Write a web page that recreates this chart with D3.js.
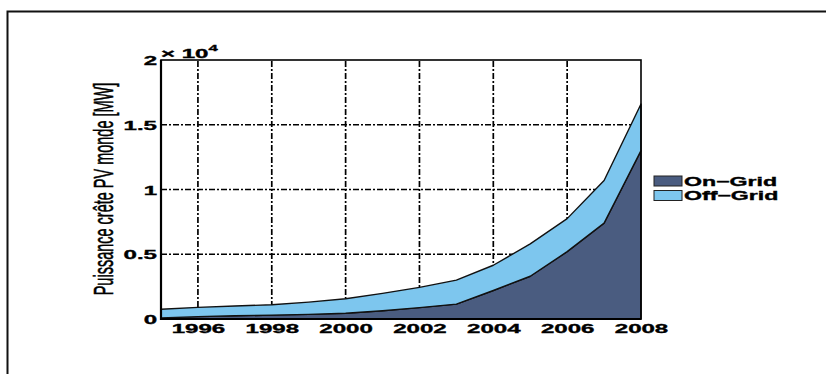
<!DOCTYPE html>
<html>
<head>
<meta charset="utf-8">
<script src="https://cdn.jsdelivr.net/npm/d3@7"></script>
<style>
  html, body { margin: 0; padding: 0; background: #fff; }
  svg { display: block; }
  text { font-family: "Liberation Sans", Arial, sans-serif; fill: #000; }
</style>
</head>
<body>
<svg id="chart" width="826" height="374"></svg>
<script>
// Installed world PV peak power, MW, stacked by grid connection
const years    = [1995, 1996, 1997, 1998, 1999, 2000, 2001, 2002, 2003, 2004, 2005, 2006, 2007, 2008];
const onGrid   = [  80,  180,  250,  300,  360,  440,  640,  880, 1150, 2200, 3300, 5200, 7400, 13000];
const offGrid  = [ 670,  720,  750,  800,  940, 1120, 1340, 1560, 1850, 1950, 2500, 2550, 3300, 3600];
const seriesNames = ["On\u2212Grid", "Off\u2212Grid"];
const seriesColors = ["#4a5c80", "#7dc6ee"];
const xTicks = [1996, 1998, 2000, 2002, 2004, 2006, 2008];
const yTicks = [0, 5000, 10000, 15000, 20000];
const yLabel = "Puissance crête PV monde [MW]";

const stretch = 1.85; // horizontal glyph stretch used for all text

const svg = d3.select("#chart");

// outer frame (top and left edges)
svg.append("path")
  .attr("d", "M7.5,374 V11.5 H826")
  .attr("fill", "none").attr("stroke", "#111").attr("stroke-width", 2);

const x = d3.scaleLinear().domain([1995, 2008]).range([161, 641]);
const y = d3.scaleLinear().domain([0, 20000]).range([319, 60]);

const rows = years.map((yr, i) => ({ year: yr, on: onGrid[i], off: offGrid[i] }));
const stacked = d3.stack().keys(["on", "off"])(rows);

// grid lines
const grid = svg.append("g").attr("stroke", "#000").attr("stroke-width", 1.7)
  .attr("stroke-dasharray", "6,2,2,2");
grid.selectAll("line.v").data(xTicks.filter(t => t < 2008)).join("line")
  .attr("x1", d => x(d)).attr("x2", d => x(d))
  .attr("y1", y(0)).attr("y2", y(20000));
grid.selectAll("line.h").data(yTicks.filter(t => t > 0 && t < 20000)).join("line")
  .attr("x1", x(1995)).attr("x2", x(2008))
  .attr("y1", d => y(d)).attr("y2", d => y(d));

// stacked areas
const area = d3.area()
  .x(d => x(d.data.year))
  .y0(d => y(d[0]))
  .y1(d => y(d[1]));

svg.append("g").selectAll("path").data(stacked).join("path")
  .attr("d", area)
  .attr("fill", (d, i) => seriesColors[i])
  .attr("stroke", "#111")
  .attr("stroke-width", 1.4)
  .attr("stroke-linejoin", "round");

// plot box
svg.append("rect")
  .attr("x", x(1995)).attr("y", y(20000))
  .attr("width", x(2008) - x(1995)).attr("height", y(0) - y(20000))
  .attr("fill", "none").attr("stroke", "#000").attr("stroke-width", 1.6);
svg.append("path")
  .attr("d", `M${x(1995)},${y(20000)} V${y(0)} H${x(2008)}`)
  .attr("fill", "none").attr("stroke", "#000").attr("stroke-width", 2.2);

const heavy = sel => sel.attr("stroke", "#000").attr("stroke-width", 0.35);

// x axis
const xAxis = svg.append("g").attr("transform", `translate(0,${y(0)})`)
  .call(d3.axisBottom(x).tickValues(xTicks).tickFormat(d3.format("d")).tickSize(0));
xAxis.select(".domain").remove();
xAxis.selectAll("text")
  .attr("y", 0).attr("dy", null)
  .attr("transform", `translate(0,14) scale(${stretch},1)`)
  .style("font-size", "13px").style("font-weight", "bold")
  .style("font-family", "'Liberation Sans', Arial, sans-serif").attr("fill", "#000")
  .call(heavy);

// y axis
const yAxis = svg.append("g").attr("transform", `translate(${x(1995)},0)`)
  .call(d3.axisLeft(y).tickValues(yTicks).tickFormat(d => d3.format("~g")(d / 1e4)).tickSize(0));
yAxis.select(".domain").remove();
yAxis.selectAll("text")
  .attr("x", 0).attr("dy", "0.36em")
  .attr("transform", `translate(-4,0) scale(${stretch},1)`)
  .style("font-size", "13px").style("font-weight", "bold")
  .style("font-family", "'Liberation Sans', Arial, sans-serif").attr("fill", "#000")
  .call(heavy);

// exponent label
const expo = svg.append("text")
  .attr("transform", `translate(${x(1995)},58) scale(${stretch},1)`)
  .style("font-size", "13px").style("font-weight", "bold")
  .call(heavy);
expo.append("tspan").text("\u00d7 10");
expo.append("tspan").attr("dy", -7).style("font-size", "9px").text("4");

// y axis title
svg.append("text")
  .attr("transform", `translate(113,189) scale(${stretch},1) rotate(-90)`)
  .attr("text-anchor", "middle")
  .style("font-size", "14.5px")
  .attr("stroke", "#000").attr("stroke-width", 0.3)
  .text(yLabel);

// legend
const legend = svg.append("g");
seriesNames.forEach((name, i) => {
  const ly = 176 + i * 14.5;
  legend.append("rect")
    .attr("x", 654).attr("y", ly).attr("width", 28).attr("height", 10)
    .attr("fill", seriesColors[i]).attr("stroke", "#222").attr("stroke-width", 1);
  legend.append("text")
    .attr("transform", `translate(684,${ly + 9.5}) scale(${stretch},1)`)
    .style("font-size", "12.5px").style("font-weight", "bold")
    .call(heavy)
    .text(name);
});
</script>
</body>
</html>
